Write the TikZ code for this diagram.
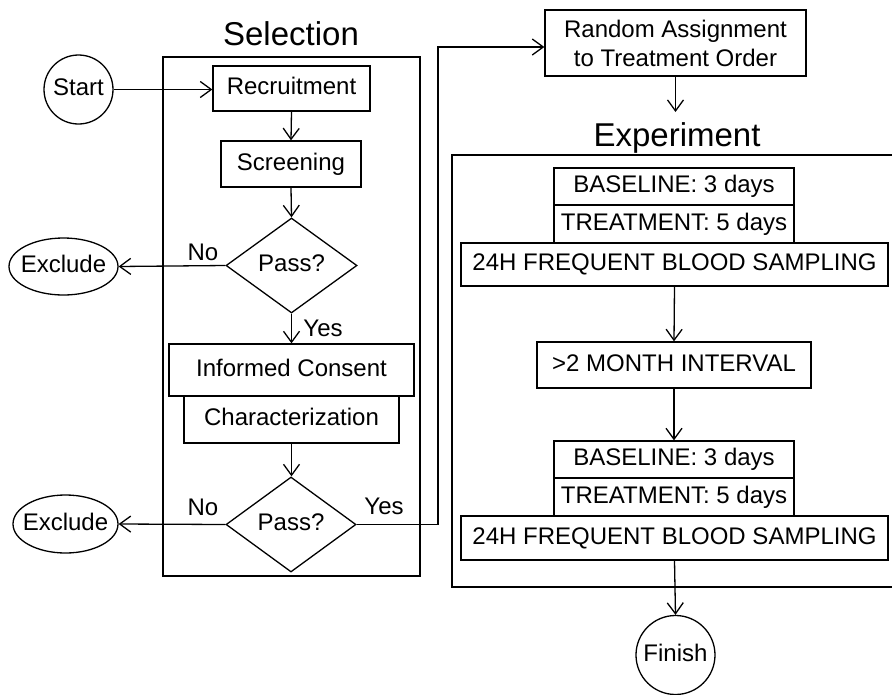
\documentclass[tikz,border=0pt]{standalone}
\usepackage{fontspec}
\setmainfont{Liberation Sans}
\usetikzlibrary{shapes.geometric,arrows.meta}
\begin{document}
\begin{tikzpicture}[x=1pt,y=-1pt,
  every node/.style={font=\fontsize{24}{29}\selectfont, inner sep=0pt},
  one/.style={text height=17pt, text depth=5pt},
  box/.style={draw, line width=1.3pt, one},
  oval/.style={draw, line width=1.3pt, ellipse, one},
  rnd/.style={draw, line width=1.3pt, circle, one},
  dia/.style={draw, line width=1.3pt, diamond, one},
  frame/.style={draw, line width=1.3pt},
  ttl/.style={font=\fontsize{33}{38}\selectfont, anchor=base},
  lbl/.style={one},
  arr/.style={line width=1.3pt, -{Straight Barb[length=11pt,width=16pt,line width=1.3pt]}}]
\useasboundingbox (0,0) rectangle (892,694);

% Selection frame and title
\draw[frame] (163,57) rectangle (420,576);
\node[ttl] (seltitle) at (291,45) {Selection};

\node[rnd, minimum size=69pt] (start) at (78.5,89.5) {\makebox[40pt]{Start}};
\node[box, minimum width=157pt, minimum height=45pt] (rec) at (291.5,88.5) {Recruitment};
\node[box, minimum width=140pt, minimum height=46pt] (scr) at (291,164) {Screening};
\node[dia, minimum width=131pt, minimum height=95pt] (d1) at (291.5,265.5) {Pass?};
\node[oval, minimum width=109pt, minimum height=57pt] (exc1) at (63.5,266.5) {\makebox[50pt]{Exclude}};
\node[box, minimum width=245pt, minimum height=52pt] (ic) at (291.5,370) {Informed Consent};
\node[box, minimum width=215pt, minimum height=47pt] (char) at (291.5,419.5) {Characterization};
\node[dia, minimum width=130pt, minimum height=95pt] (d2) at (291,524.5) {Pass?};
\node[oval, minimum width=105pt, minimum height=58pt] (exc2) at (65.5,524) {\makebox[50pt]{Exclude}};

\node[lbl] (no1) at (203,254) {No};
\node[lbl] (yes1) at (323,330) {Yes};
\node[lbl] (no2) at (203,509) {No};
\node[lbl] (yes2) at (384,508) {Yes};

% Random assignment
\node[draw, line width=1.3pt, minimum width=261pt, minimum height=66pt, align=center] (rand) at (675.5,43) {Random Assignment\\to Treatment Order};
\coordinate (ea) at (675.5,112);
\node[ttl] (exptitle) at (677,146) {Experiment};

% Experiment frame (open to the right edge)
\draw[frame] (892,155) -- (452,155) -- (452,587) -- (892,587);

\node[box, minimum width=240pt, minimum height=37pt] (b1) at (674,186.5) {BASELINE: 3 days};
\node[box, minimum width=240pt, minimum height=38pt] (t1) at (674,224) {TREATMENT: 5 days};
\node[box, minimum width=427pt, minimum height=43pt] (s1) at (674.5,264.5) {24H FREQUENT BLOOD SAMPLING};
\node[box, minimum width=274pt, minimum height=46pt] (mi) at (674,365) {>2 MONTH INTERVAL};
\node[box, minimum width=240pt, minimum height=37pt] (b2) at (674,459.5) {BASELINE: 3 days};
\node[box, minimum width=240pt, minimum height=38pt] (t2) at (674,497) {TREATMENT: 5 days};
\node[box, minimum width=427pt, minimum height=44pt] (s2) at (674.5,538) {24H FREQUENT BLOOD SAMPLING};
\node[rnd, minimum size=79pt] (fin) at (675.5,655) {\makebox[50pt]{Finish}};

% Connectors
\draw[arr] (start.east) -- (start.east -| rec.west);
\draw[arr] (rec.south) -- (scr.north);
\draw[arr] (scr.south) -- (d1.north);
\draw[arr] (d1.west) -- (exc1.east);
\draw[arr] (d1.south) -- (ic.north);
\draw[arr] (char.south) -- (char.south |- d2.north);
\draw[arr] (d2.west) -- (exc2.east);
\coordinate (yc) at (438,47);
\draw[arr] (d2.east) -| (yc) -- (yc -| rand.west);
\draw[arr] (rand.south) -- (ea);
\draw[arr] (s1.south) -- (mi.north);
\draw[arr] (mi.south) -- (b2.north);
\draw[arr] (s2.south) -- (fin.north);
\end{tikzpicture}
\end{document}
